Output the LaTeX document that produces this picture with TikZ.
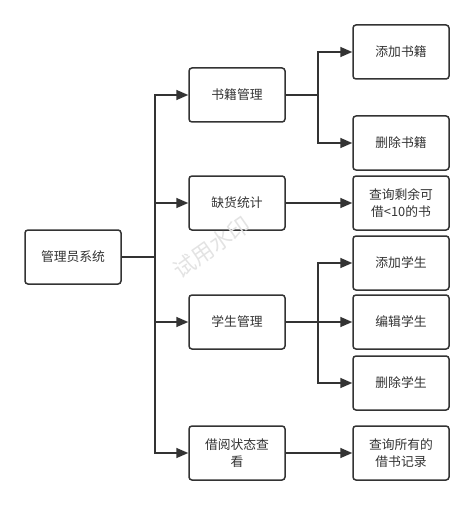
\documentclass[tikz,border=0pt]{standalone}
\usepackage{fontspec}
\usepackage{tikz}
\usetikzlibrary{arrows.meta}
\setmainfont{Noto Sans CJK SC}
\newfontfamily\cjk{Noto Sans CJK SC}
\definecolor{ink}{HTML}{333333}

\begin{document}
\begin{tikzpicture}[x=1pt, y=-1pt,
	box/.style={draw=ink, line width=1.5pt, rounded corners=3pt, fill=white,
		minimum width=96pt, minimum height=54pt, inner sep=0pt, align=center,
		text=ink, font=\cjk\fontsize{12.8}{17}\selectfont},
	conn/.style={draw=ink, line width=1.6pt, -{Triangle[length=12pt, width=10pt]}}]
\useasboundingbox (0,0) rectangle (474,505);

\coordinate (trunk) at (155,0);
\coordinate (branch) at (318,0);

\node[box] (root) at (73,257) {管理员系统};

\node[box] (books) at (237,95) {书籍管理};
\node[box] (stock) at (237,203) {缺货统计};
\node[box] (students) at (237,322) {学生管理};
\node[box] (borrow) at (237,453) {借阅状态查\\看};

\node[box] (addbook) at (401,52) {添加书籍};
\node[box] (delbook) at (401,143) {删除书籍};
\node[box] (query) at (401,203) {查询剩余可\\借<10的书};
\node[box] (addstu) at (401,263) {添加学生};
\node[box] (editstu) at (401,322) {编辑学生};
\node[box] (delstu) at (401,383) {删除学生};
\node[box] (records) at (401,453) {查询所有的\\借书记录};

\foreach \to in {books, stock, students, borrow} {
	\draw[conn] (root.east) -- (root.east -| trunk) |- (\to.west);
}

\foreach \to in {addbook, delbook} {
	\draw[conn] (books.east) -- (books.east -| branch) |- (\to.west);
}
\foreach \to in {addstu, editstu, delstu} {
	\draw[conn] (students.east) -- (students.east -| branch) |- (\to.west);
}

\draw[conn] (stock.east) -- (query.west);
\draw[conn] (borrow.east) -- (records.west);

% watermark
\node[rotate=35, text=gray!22, inner sep=0pt, font=\cjk\fontsize{22}{22}\selectfont] (mark) at (212,247) {试用水印};

\end{tikzpicture}
\end{document}
